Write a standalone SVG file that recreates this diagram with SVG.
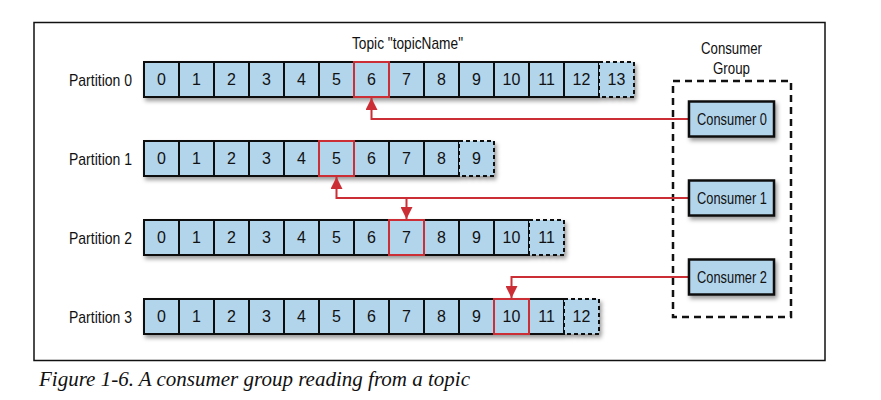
<svg xmlns="http://www.w3.org/2000/svg" width="881" height="400" viewBox="0 0 881 400">
<defs>
<style>
text{font-family:"Liberation Sans",Arial,sans-serif;font-size:16px;fill:#111}
.num{text-anchor:middle}
.big{font-size:17px}
.cell{fill:#b3d5ec;stroke:#111;stroke-width:2}
.last{stroke-dasharray:4 3}
.hl{fill:#b3d5ec;stroke:#cc2e36;stroke-width:2}
.conn{fill:none;stroke:#cc2e36;stroke-width:2}
.cons{fill:#b3d5ec;stroke:#111;stroke-width:2.5}
.caption{font-family:"Liberation Serif",serif;font-style:italic;font-size:20px}
</style>
<filter id="sh" x="-5%" y="-20%" width="115%" height="150%">
<feDropShadow dx="2" dy="3" stdDeviation="2" flood-color="#000" flood-opacity="0.4"/>
</filter>
<marker id="ar" markerUnits="userSpaceOnUse" markerWidth="14" markerHeight="12" viewBox="0 0 14 12" refX="12" refY="6" orient="auto">
<path d="M0,0 L12,6 L0,12 Z" fill="#cc2e36"/>
</marker>
</defs>
<rect x="34" y="22.5" width="791" height="338" fill="#fff" stroke="#111" stroke-width="1.5"/>
<text class="big" x="352" y="49" textLength="111" lengthAdjust="spacingAndGlyphs">Topic "topicName"</text>
<text class="big" x="701" y="54" textLength="61" lengthAdjust="spacingAndGlyphs">Consumer</text>
<text class="big" x="713" y="74" textLength="37" lengthAdjust="spacingAndGlyphs">Group</text>

<g id="partition0">
<text class="big" x="69" y="85.5" textLength="63" lengthAdjust="spacingAndGlyphs">Partition 0</text>
<g filter="url(#sh)">
<rect class="cell" x="144" y="62" width="35" height="35"/><rect class="cell" x="179" y="62" width="35" height="35"/><rect class="cell" x="214" y="62" width="35" height="35"/><rect class="cell" x="249" y="62" width="35" height="35"/><rect class="cell" x="284" y="62" width="35" height="35"/><rect class="cell" x="319" y="62" width="35" height="35"/><rect class="cell" x="389" y="62" width="35" height="35"/><rect class="cell" x="424" y="62" width="35" height="35"/><rect class="cell" x="459" y="62" width="35" height="35"/><rect class="cell" x="494" y="62" width="35" height="35"/><rect class="cell" x="529" y="62" width="35" height="35"/><rect class="cell" x="564" y="62" width="35" height="35"/><rect class="cell last" x="599" y="62" width="35" height="35"/><rect class="hl" x="354" y="62" width="35" height="35"/>
</g>
<text class="num" x="161.5" y="85">0</text><text class="num" x="196.5" y="85">1</text><text class="num" x="231.5" y="85">2</text><text class="num" x="266.5" y="85">3</text><text class="num" x="301.5" y="85">4</text><text class="num" x="336.5" y="85">5</text><text class="num" x="371.5" y="85">6</text><text class="num" x="406.5" y="85">7</text><text class="num" x="441.5" y="85">8</text><text class="num" x="476.5" y="85">9</text><text class="num" x="511.5" y="85">10</text><text class="num" x="546.5" y="85">11</text><text class="num" x="581.5" y="85">12</text><text class="num" x="616.5" y="85">13</text>
</g>

<g id="partition1">
<text class="big" x="69" y="164.5" textLength="63" lengthAdjust="spacingAndGlyphs">Partition 1</text>
<g filter="url(#sh)">
<rect class="cell" x="144" y="141" width="35" height="35"/><rect class="cell" x="179" y="141" width="35" height="35"/><rect class="cell" x="214" y="141" width="35" height="35"/><rect class="cell" x="249" y="141" width="35" height="35"/><rect class="cell" x="284" y="141" width="35" height="35"/><rect class="cell" x="354" y="141" width="35" height="35"/><rect class="cell" x="389" y="141" width="35" height="35"/><rect class="cell" x="424" y="141" width="35" height="35"/><rect class="cell last" x="459" y="141" width="35" height="35"/><rect class="hl" x="319" y="141" width="35" height="35"/>
</g>
<text class="num" x="161.5" y="164">0</text><text class="num" x="196.5" y="164">1</text><text class="num" x="231.5" y="164">2</text><text class="num" x="266.5" y="164">3</text><text class="num" x="301.5" y="164">4</text><text class="num" x="336.5" y="164">5</text><text class="num" x="371.5" y="164">6</text><text class="num" x="406.5" y="164">7</text><text class="num" x="441.5" y="164">8</text><text class="num" x="476.5" y="164">9</text>
</g>

<g id="partition2">
<text class="big" x="69" y="243.5" textLength="63" lengthAdjust="spacingAndGlyphs">Partition 2</text>
<g filter="url(#sh)">
<rect class="cell" x="144" y="220" width="35" height="35"/><rect class="cell" x="179" y="220" width="35" height="35"/><rect class="cell" x="214" y="220" width="35" height="35"/><rect class="cell" x="249" y="220" width="35" height="35"/><rect class="cell" x="284" y="220" width="35" height="35"/><rect class="cell" x="319" y="220" width="35" height="35"/><rect class="cell" x="354" y="220" width="35" height="35"/><rect class="cell" x="424" y="220" width="35" height="35"/><rect class="cell" x="459" y="220" width="35" height="35"/><rect class="cell" x="494" y="220" width="35" height="35"/><rect class="cell last" x="529" y="220" width="35" height="35"/><rect class="hl" x="389" y="220" width="35" height="35"/>
</g>
<text class="num" x="161.5" y="243">0</text><text class="num" x="196.5" y="243">1</text><text class="num" x="231.5" y="243">2</text><text class="num" x="266.5" y="243">3</text><text class="num" x="301.5" y="243">4</text><text class="num" x="336.5" y="243">5</text><text class="num" x="371.5" y="243">6</text><text class="num" x="406.5" y="243">7</text><text class="num" x="441.5" y="243">8</text><text class="num" x="476.5" y="243">9</text><text class="num" x="511.5" y="243">10</text><text class="num" x="546.5" y="243">11</text>
</g>

<g id="partition3">
<text class="big" x="69" y="322.5" textLength="63" lengthAdjust="spacingAndGlyphs">Partition 3</text>
<g filter="url(#sh)">
<rect class="cell" x="144" y="299" width="35" height="35"/><rect class="cell" x="179" y="299" width="35" height="35"/><rect class="cell" x="214" y="299" width="35" height="35"/><rect class="cell" x="249" y="299" width="35" height="35"/><rect class="cell" x="284" y="299" width="35" height="35"/><rect class="cell" x="319" y="299" width="35" height="35"/><rect class="cell" x="354" y="299" width="35" height="35"/><rect class="cell" x="389" y="299" width="35" height="35"/><rect class="cell" x="424" y="299" width="35" height="35"/><rect class="cell" x="459" y="299" width="35" height="35"/><rect class="cell" x="529" y="299" width="35" height="35"/><rect class="cell last" x="564" y="299" width="35" height="35"/><rect class="hl" x="494" y="299" width="35" height="35"/>
</g>
<text class="num" x="161.5" y="322">0</text><text class="num" x="196.5" y="322">1</text><text class="num" x="231.5" y="322">2</text><text class="num" x="266.5" y="322">3</text><text class="num" x="301.5" y="322">4</text><text class="num" x="336.5" y="322">5</text><text class="num" x="371.5" y="322">6</text><text class="num" x="406.5" y="322">7</text><text class="num" x="441.5" y="322">8</text><text class="num" x="476.5" y="322">9</text><text class="num" x="511.5" y="322">10</text><text class="num" x="546.5" y="322">11</text><text class="num" x="581.5" y="322">12</text>
</g>

<g id="consumer-group">
<rect x="673" y="81" width="118" height="236" fill="none" stroke="#111" stroke-width="2.5" stroke-dasharray="7 5"/>
</g>

<g id="connectors">
<path class="conn" d="M689,119 H371.5 V98" marker-end="url(#ar)"/>
<path class="conn" d="M689,198 H336.5 V177" marker-end="url(#ar)"/>
<path class="conn" d="M406.5,198 V219" marker-end="url(#ar)"/>
<path class="conn" d="M689,277 H511.5 V298" marker-end="url(#ar)"/>
</g>

<g id="consumer0">
<rect class="cons" x="689" y="101.5" width="85" height="35" filter="url(#sh)"/>
<text class="big" x="697" y="125" textLength="70" lengthAdjust="spacingAndGlyphs">Consumer 0</text>
</g>
<g id="consumer1">
<rect class="cons" x="689" y="180.5" width="85" height="35" filter="url(#sh)"/>
<text class="big" x="697" y="204" textLength="70" lengthAdjust="spacingAndGlyphs">Consumer 1</text>
</g>
<g id="consumer2">
<rect class="cons" x="689" y="259.5" width="85" height="35" filter="url(#sh)"/>
<text class="big" x="697" y="283" textLength="70" lengthAdjust="spacingAndGlyphs">Consumer 2</text>
</g>

<text class="caption" x="39" y="386" textLength="431" lengthAdjust="spacingAndGlyphs">Figure 1-6. A consumer group reading from a topic</text>
</svg>
